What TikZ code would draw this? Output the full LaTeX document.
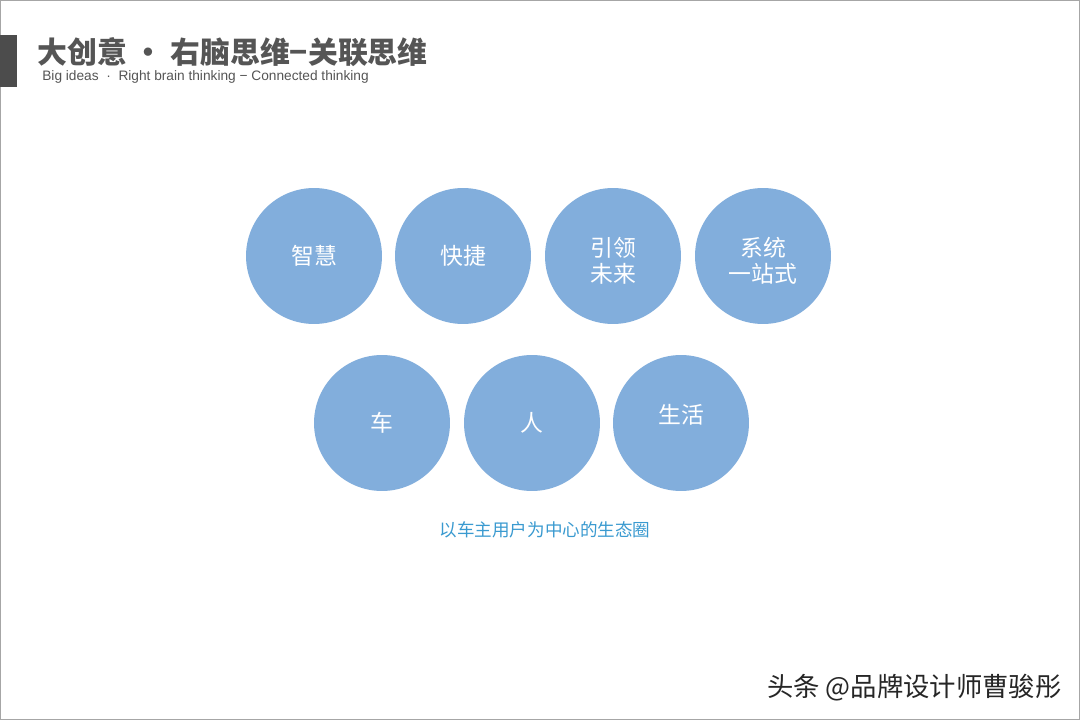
\documentclass[tikz,border=0pt]{standalone}
\usepackage{fontspec}
\setmainfont{Liberation Sans}
\newfontfamily\cjk{Noto Sans CJK SC}
\usetikzlibrary{positioning}
\definecolor{bubblefill}{HTML}{82AEDC}
\definecolor{titlegray}{HTML}{555555}
\definecolor{captionblue}{HTML}{3A9AD0}
\tikzset{
  bubbletext/.style={inner sep=0pt,text=white,align=center,
    font=\cjk\fontsize{13}{14.5}\selectfont},
  bubble/.style={circle,fill=bubblefill,minimum size=2.72cm,bubbletext},
}
\begin{document}
\begin{tikzpicture}[x=0.02cm,y=-0.02cm]
  \useasboundingbox (0,0) rectangle (1080,720);
  \fill[white] (0,0) rectangle (1080,720);
  \draw[gray!70,line width=0.6pt] (0.5,0.5) rectangle (1079.5,719.5);
  % header
  \fill[titlegray!90!black] (0,35) rectangle (17,87);
  \node[anchor=west,inner sep=0pt,text=titlegray,font=\cjk\bfseries\fontsize{17}{20}\selectfont] (title) at (37,52) {大创意 · 右脑思维−关联思维};
  \node[anchor=west,inner sep=0pt,text=titlegray,font=\fontsize{7.8}{9}\selectfont] (subtitle) at (42,77) {Big ideas \ · \ Right brain thinking − Connected thinking};
  % top row
  \node[bubble] (zhihui) at (314,256) {智慧};
  \node[bubble] (kuaijie) at (463,256) {快捷};
  \node[bubble] (yinling) at (613,256) {};
  \node[bubbletext] (yinlingtext) at (613,261) {引领\\未来};
  \node[bubble] (xitong) at (763,256) {};
  \node[bubbletext] (xitongtext) at (763,261) {系统\\一站式};
  % bottom row
  \node[bubble] (che) at (382,423) {车};
  \node[bubble] (ren) at (532,423) {人};
  \node[bubble] (shenghuo) at (681,423) {};
  \node[bubbletext] (shenghuotext) at (681,415) {生活};
  \node[text=captionblue,inner sep=0pt,font=\cjk\fontsize{10}{12}\selectfont] (caption) at (545,530) {以车主用户为中心的生态圈};
  % watermark
  \node[anchor=east,inner sep=0pt,text=black!85,font=\cjk\fontsize{15}{18}\selectfont] (mark) at (1062,688) {头条 @品牌设计师曹骏彤};
\end{tikzpicture}
\end{document}
